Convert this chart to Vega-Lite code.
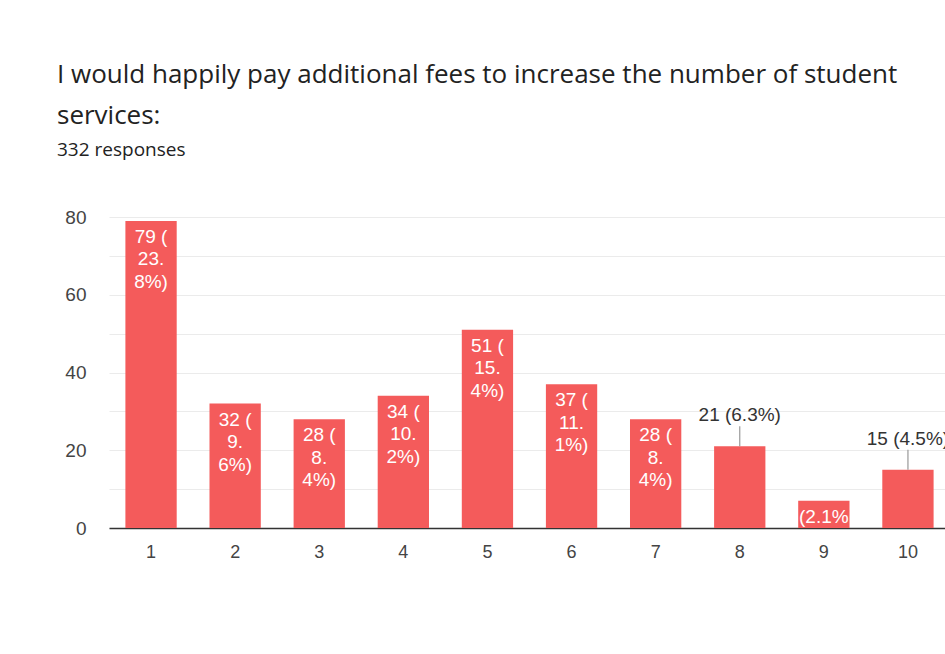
{
  "$schema": "https://vega.github.io/schema/vega-lite/v6.json",
  "autosize": "none",
  "width": 841,
  "height": 311,
  "padding": {"left": 109, "top": 217, "right": 0, "bottom": 126},
  "background": "white",
  "title": {
    "text": ["I would happily pay additional fees to increase the number of student", "services:"],
    "subtitle": "332 responses",
    "anchor": "start",
    "frame": "group",
    "dx": -52,
    "offset": 48,
    "font": "Open Sans",
    "fontSize": 26,
    "fontWeight": "normal",
    "lineHeight": 41,
    "color": "#222222",
    "subtitleFont": "Open Sans",
    "subtitleFontSize": 19,
    "subtitleColor": "#222222",
    "subtitlePadding": 12
  },
  "data": {
    "values": [
      {"rating": "1", "count": 79, "label": ["79 (", "23.", "8%)"], "pos": "in"},
      {"rating": "2", "count": 32, "label": ["32 (", "9.", "6%)"], "pos": "in"},
      {"rating": "3", "count": 28, "label": ["28 (", "8.", "4%)"], "pos": "in"},
      {"rating": "4", "count": 34, "label": ["34 (", "10.", "2%)"], "pos": "in"},
      {"rating": "5", "count": 51, "label": ["51 (", "15.", "4%)"], "pos": "in"},
      {"rating": "6", "count": 37, "label": ["37 (", "11.", "1%)"], "pos": "in"},
      {"rating": "7", "count": 28, "label": ["28 (", "8.", "4%)"], "pos": "in"},
      {"rating": "8", "count": 21, "label": ["21 (6.3%)"], "pos": "out"},
      {"rating": "9", "count": 7, "label": ["(2.1%"], "pos": "in"},
      {"rating": "10", "count": 15, "label": ["15 (4.5%)"], "pos": "out"}
    ]
  },
  "encoding": {
    "x": {
      "field": "rating",
      "type": "ordinal",
      "sort": null,
      "scale": {"paddingInner": 0.39, "paddingOuter": 0.195},
      "axis": {
        "title": null,
        "labelAngle": 0,
        "labelFont": "Liberation Sans",
        "labelFontSize": 18,
        "labelColor": "#444444",
        "labelPadding": 15,
        "ticks": false,
        "domainColor": "#333333",
        "domainWidth": 1.5,
        "grid": false
      }
    },
    "y": {
      "field": "count",
      "type": "quantitative",
      "scale": {"domain": [0, 80], "nice": false},
      "axis": {
        "title": null,
        "values": [0, 10, 20, 30, 40, 50, 60, 70, 80],
        "labelExpr": "datum.value % 20 == 0 ? datum.label : ''",
        "labelFont": "Liberation Sans",
        "labelFontSize": 19,
        "labelColor": "#444444",
        "labelPadding": 23,
        "ticks": false,
        "domain": false,
        "gridColor": "#ebebeb",
        "gridWidth": 1.2
      }
    }
  },
  "layer": [
    {
      "mark": {"type": "bar", "color": "#f45b5b"}
    },
    {
      "transform": [{"filter": "datum.pos == 'out'"}],
      "mark": {"type": "rule", "color": "#999999", "strokeWidth": 1.2, "y2Offset": -20},
      "encoding": {"y2": {"field": "count"}}
    },
    {
      "transform": [{"filter": "datum.pos == 'in'"}],
      "mark": {"type": "text", "color": "white", "font": "Liberation Sans", "fontSize": 19, "baseline": "top", "dy": 7, "lineHeight": 22.5},
      "encoding": {"text": {"field": "label"}}
    },
    {
      "transform": [{"filter": "datum.pos == 'out'"}],
      "mark": {"type": "text", "color": "#333333", "font": "Liberation Sans", "fontSize": 19, "baseline": "middle", "dy": -31},
      "encoding": {"text": {"field": "label"}}
    }
  ],
  "config": {"view": {"stroke": null}}
}
